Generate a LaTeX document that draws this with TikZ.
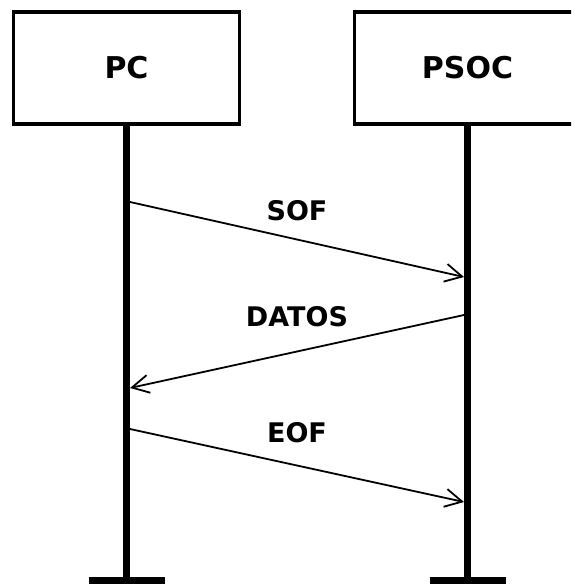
\documentclass[tikz,border=0pt]{standalone}
\usepackage{fontspec}
\setmainfont{DejaVu Sans}
\usetikzlibrary{arrows.meta}
\tikzstyle{block} = [rectangle, minimum width=226pt, minimum height=112pt, text centered, draw=black, line width=3.5pt, font=\fontsize{30}{36}\selectfont\bfseries]
\tikzstyle{lifeline} = [line width=7pt]
\tikzstyle{foot} = [line width=7.5pt]
\tikzstyle{arrow} = [line width=1.8pt, -{Straight Barb[length=17pt,width=18pt]}]
\tikzstyle{msg} = [inner sep=0pt, font=\fontsize{27}{32}\selectfont\bfseries]

\begin{document}
\begin{tikzpicture}[x=1pt, y=-1pt, node distance=341pt]
\useasboundingbox (0,0) rectangle (571,585);
\clip (0,0) rectangle (571,585);
% Nodos principales
\node (pc) [block] at (126.5,67.8) {PC};
\node (psoc) [block, right of=pc] {PSOC};

% Lineas de vida
\coordinate (pcfin) at (126.5,580.5);
\coordinate (psocfin) at (467.5,580.5);
\draw [lifeline] (pc.south) -- (pcfin);
\draw [lifeline] (psoc.south) -- (psocfin);
\draw [foot] ([xshift=-38pt]pcfin) -- ([xshift=38pt]pcfin);
\draw [foot] ([xshift=-38pt]psocfin) -- ([xshift=38pt]psocfin);

% Puntos de los mensajes
\coordinate (pc1) at (130,202);
\coordinate (psoc1) at (464,277);
\coordinate (psoc2) at (464,315);
\coordinate (pc2) at (130,388);
\coordinate (pc3) at (130,429);
\coordinate (psoc3) at (464,502);

% Mensajes
\draw [arrow] (pc1) -- (psoc1) node[msg, midway, above=18pt] {SOF};
\draw [arrow] (psoc2) -- (pc2) node[msg, midway, above=24pt] {DATOS};
\draw [arrow] (pc3) -- (psoc3) node[msg, midway, above=22pt] {EOF};
\end{tikzpicture}
\end{document}
